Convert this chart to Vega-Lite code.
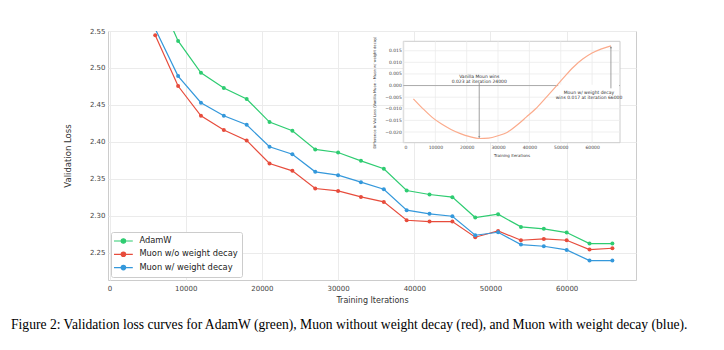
{
  "$schema": "https://vega.github.io/schema/vega-lite/v6.json",
  "width": 528,
  "height": 249,
  "autosize": {"type": "none"},
  "padding": {"left": 108, "top": 31, "right": 88, "bottom": 70},
  "background": "white",
  "config": {
    "font": "DejaVu Sans",
    "view": {"stroke": "#cccccc", "strokeWidth": 1},
    "axis": {
      "labelFont": "DejaVu Sans",
      "titleFont": "DejaVu Sans",
      "labelColor": "#444444",
      "titleColor": "#333333",
      "titleFontWeight": "normal",
      "gridColor": "#ebebeb",
      "gridWidth": 1,
      "ticks": false,
      "domain": false,
      "labelOverlap": false
    }
  },
  "title": {
    "text": "Figure 2: Validation loss curves for AdamW (green), Muon without weight decay (red), and Muon with weight decay (blue).",
    "orient": "bottom",
    "anchor": "start",
    "frame": "group",
    "dx": -97,
    "offset": 14,
    "font": "Liberation Serif",
    "fontSize": 13.6,
    "fontWeight": "normal",
    "color": "#000000"
  },
  "datasets": {
    "loss": [
      {"it": 6000, "series": "AdamW", "loss": 2.606},
      {"it": 9000, "series": "AdamW", "loss": 2.5365},
      {"it": 12000, "series": "AdamW", "loss": 2.4935},
      {"it": 15000, "series": "AdamW", "loss": 2.4728},
      {"it": 18000, "series": "AdamW", "loss": 2.4579},
      {"it": 21000, "series": "AdamW", "loss": 2.4267},
      {"it": 24000, "series": "AdamW", "loss": 2.415},
      {"it": 27000, "series": "AdamW", "loss": 2.3897},
      {"it": 30000, "series": "AdamW", "loss": 2.3856},
      {"it": 33000, "series": "AdamW", "loss": 2.3743},
      {"it": 36000, "series": "AdamW", "loss": 2.3635},
      {"it": 39000, "series": "AdamW", "loss": 2.3341},
      {"it": 42000, "series": "AdamW", "loss": 2.3287},
      {"it": 45000, "series": "AdamW", "loss": 2.3251},
      {"it": 48000, "series": "AdamW", "loss": 2.2975},
      {"it": 51000, "series": "AdamW", "loss": 2.302},
      {"it": 54000, "series": "AdamW", "loss": 2.2849},
      {"it": 57000, "series": "AdamW", "loss": 2.2822},
      {"it": 60000, "series": "AdamW", "loss": 2.2772},
      {"it": 63000, "series": "AdamW", "loss": 2.2623},
      {"it": 66000, "series": "AdamW", "loss": 2.2623},
      {"it": 6000, "series": "Muon w/o weight decay", "loss": 2.5441},
      {"it": 9000, "series": "Muon w/o weight decay", "loss": 2.4755},
      {"it": 12000, "series": "Muon w/o weight decay", "loss": 2.4353},
      {"it": 15000, "series": "Muon w/o weight decay", "loss": 2.4159},
      {"it": 18000, "series": "Muon w/o weight decay", "loss": 2.4019},
      {"it": 21000, "series": "Muon w/o weight decay", "loss": 2.3707},
      {"it": 24000, "series": "Muon w/o weight decay", "loss": 2.3607},
      {"it": 27000, "series": "Muon w/o weight decay", "loss": 2.3368},
      {"it": 30000, "series": "Muon w/o weight decay", "loss": 2.3336},
      {"it": 33000, "series": "Muon w/o weight decay", "loss": 2.3255},
      {"it": 36000, "series": "Muon w/o weight decay", "loss": 2.3187},
      {"it": 39000, "series": "Muon w/o weight decay", "loss": 2.2939},
      {"it": 42000, "series": "Muon w/o weight decay", "loss": 2.2921},
      {"it": 45000, "series": "Muon w/o weight decay", "loss": 2.2921},
      {"it": 48000, "series": "Muon w/o weight decay", "loss": 2.2709},
      {"it": 51000, "series": "Muon w/o weight decay", "loss": 2.2794},
      {"it": 54000, "series": "Muon w/o weight decay", "loss": 2.2668},
      {"it": 57000, "series": "Muon w/o weight decay", "loss": 2.2686},
      {"it": 60000, "series": "Muon w/o weight decay", "loss": 2.2668},
      {"it": 63000, "series": "Muon w/o weight decay", "loss": 2.2542},
      {"it": 66000, "series": "Muon w/o weight decay", "loss": 2.256},
      {"it": 6000, "series": "Muon w/ weight decay", "loss": 2.5528},
      {"it": 9000, "series": "Muon w/ weight decay", "loss": 2.489},
      {"it": 12000, "series": "Muon w/ weight decay", "loss": 2.4529},
      {"it": 15000, "series": "Muon w/ weight decay", "loss": 2.4353},
      {"it": 18000, "series": "Muon w/ weight decay", "loss": 2.4231},
      {"it": 21000, "series": "Muon w/ weight decay", "loss": 2.3933},
      {"it": 24000, "series": "Muon w/ weight decay", "loss": 2.3833},
      {"it": 27000, "series": "Muon w/ weight decay", "loss": 2.3594},
      {"it": 30000, "series": "Muon w/ weight decay", "loss": 2.3549},
      {"it": 33000, "series": "Muon w/ weight decay", "loss": 2.3454},
      {"it": 36000, "series": "Muon w/ weight decay", "loss": 2.3359},
      {"it": 39000, "series": "Muon w/ weight decay", "loss": 2.3075},
      {"it": 42000, "series": "Muon w/ weight decay", "loss": 2.3025},
      {"it": 45000, "series": "Muon w/ weight decay", "loss": 2.2993},
      {"it": 48000, "series": "Muon w/ weight decay", "loss": 2.2736},
      {"it": 51000, "series": "Muon w/ weight decay", "loss": 2.2776},
      {"it": 54000, "series": "Muon w/ weight decay", "loss": 2.2609},
      {"it": 57000, "series": "Muon w/ weight decay", "loss": 2.2587},
      {"it": 60000, "series": "Muon w/ weight decay", "loss": 2.2537},
      {"it": 63000, "series": "Muon w/ weight decay", "loss": 2.2393},
      {"it": 66000, "series": "Muon w/ weight decay", "loss": 2.2393}
    ],
    "diff": [
      {"it": 3000, "diff": -0.0057},
      {"it": 6000, "diff": -0.0099},
      {"it": 9000, "diff": -0.0137},
      {"it": 12000, "diff": -0.0166},
      {"it": 15000, "diff": -0.0189},
      {"it": 18000, "diff": -0.0207},
      {"it": 21000, "diff": -0.022},
      {"it": 24000, "diff": -0.0228},
      {"it": 27000, "diff": -0.0226},
      {"it": 30000, "diff": -0.0216},
      {"it": 33000, "diff": -0.0201},
      {"it": 36000, "diff": -0.0171},
      {"it": 39000, "diff": -0.0136},
      {"it": 42000, "diff": -0.0100},
      {"it": 45000, "diff": -0.0056},
      {"it": 48000, "diff": -0.0011},
      {"it": 51000, "diff": 0.0035},
      {"it": 54000, "diff": 0.0079},
      {"it": 57000, "diff": 0.0114},
      {"it": 60000, "diff": 0.014},
      {"it": 63000, "diff": 0.0158},
      {"it": 66000, "diff": 0.0171}
    ]
  },
  "layer": [
    {
      "data": {"name": "loss"},
      "layer": [
        {
          "mark": {"type": "line", "strokeWidth": 1.2, "clip": true},
          "encoding": {
            "x": {
              "field": "it", "type": "quantitative",
              "scale": {"domain": [-200, 69100], "nice": false, "zero": false},
              "axis": {"orient": "bottom", "values": [0, 10000, 20000, 30000, 40000, 50000, 60000], "format": "d", "labelFontSize": 7, "labelPadding": 4, "title": "Training Iterations", "titleFontSize": 8, "titlePadding": 5, "grid": true}
            },
            "y": {
              "field": "loss", "type": "quantitative",
              "scale": {"domain": [2.213, 2.55], "nice": false, "zero": false},
              "axis": {"orient": "left", "values": [2.25, 2.3, 2.35, 2.4, 2.45, 2.5, 2.55], "format": ".2f", "labelFontSize": 7, "labelPadding": 3, "title": "Validation Loss", "titleFontSize": 8.5, "titlePadding": 17, "grid": true}
            },
            "color": {
              "field": "series", "type": "nominal",
              "scale": {"domain": ["AdamW", "Muon w/o weight decay", "Muon w/ weight decay"], "range": ["#2ecc71", "#e74c3c", "#3498db"]},
              "legend": {
                "orient": "bottom-left", "offset": 3, "title": null,
                "labelFontSize": 8.3, "labelColor": "#222222", "labelOffset": 11,
                "symbolType": "M-2.35,0L2.35,0M-0.55,0A0.55,0.55,0,1,1,0.55,0A0.55,0.55,0,1,1,-0.55,0Z",
                "symbolSize": 64, "symbolStrokeWidth": 1.2, "symbolOffset": 3.4,
                "fillColor": "white", "strokeColor": "#cccccc", "cornerRadius": 2,
                "padding": 4, "rowPadding": 3.3,
                "encode": {"symbols": {"update": {"fill": {"scale": "color", "field": "value"}, "stroke": {"scale": "color", "field": "value"}}}}
              }
            },
            "detail": {"field": "series"}
          }
        },
        {
          "mark": {"type": "point", "filled": true, "size": 16, "opacity": 1, "clip": true},
          "encoding": {
            "x": {"field": "it", "type": "quantitative"},
            "y": {"field": "loss", "type": "quantitative"},
            "color": {"field": "series", "type": "nominal"}
          }
        }
      ]
    },
    {
      "layer": [
        {
          "data": {"values": [{"x0": -220, "x1": 68900, "y0": -0.0246, "y1": 0.01905}]},
          "mark": {"type": "rect", "fill": "white", "stroke": "#cccccc", "strokeWidth": 1},
          "encoding": {
            "x": {
              "field": "x0", "type": "quantitative",
              "scale": {"domain": [-220, 68900], "range": [295.3, 512], "nice": false, "zero": false},
              "axis": {"orient": "bottom", "offset": -137.3, "values": [0, 10000, 20000, 30000, 40000, 50000, 60000], "tickCount": 7, "format": "d", "labelFontSize": 4.5, "labelPadding": 2, "labelOverlap": false, "labelBound": false, "grid": false, "title": "Training Iterations", "titleFontSize": 4, "titlePadding": 4}
            },
            "x2": {"field": "x1"},
            "y": {
              "field": "y0", "type": "quantitative",
              "scale": {"domain": [-0.0246, 0.01905], "range": [111.7, 10.3], "nice": false, "zero": false},
              "axis": {"orient": "left", "offset": -295.3, "values": [-0.02, -0.015, -0.01, -0.005, 0, 0.005, 0.01, 0.015], "tickCount": 9, "format": ".3f", "labelFontSize": 4.5, "labelPadding": 2, "labelOverlap": false, "labelBound": false, "labelFlush": false, "grid": false, "title": "Difference in Val Loss (Vanilla Muon - Muon w/ weight decay)", "titleFontSize": 3.7, "titlePadding": 8}
            },
            "y2": {"field": "y1"}
          }
        },
        {
          "data": {"values": [{"g": 0}, {"g": 10000}, {"g": 20000}, {"g": 30000}, {"g": 40000}, {"g": 50000}, {"g": 60000}]},
          "mark": {"type": "rule", "color": "#ebebeb", "strokeWidth": 0.8},
          "encoding": {
            "x": {"field": "g", "type": "quantitative"},
            "y": {"datum": -0.0246, "type": "quantitative"},
            "y2": {"datum": 0.01905}
          }
        },
        {
          "data": {"values": [{"g": -0.02}, {"g": -0.015}, {"g": -0.01}, {"g": -0.005}, {"g": 0.005}, {"g": 0.01}, {"g": 0.015}]},
          "mark": {"type": "rule", "color": "#ebebeb", "strokeWidth": 0.8},
          "encoding": {
            "y": {"field": "g", "type": "quantitative"},
            "x": {"datum": -220, "type": "quantitative"},
            "x2": {"datum": 68900}
          }
        },
        {
          "data": {"values": [{"z": 0}]},
          "mark": {"type": "rule", "color": "#aaaaaa", "strokeWidth": 1},
          "encoding": {
            "y": {"field": "z", "type": "quantitative"},
            "x": {"datum": -220, "type": "quantitative"},
            "x2": {"datum": 68900}
          }
        },
        {
          "data": {"name": "diff"},
          "mark": {"type": "line", "color": "#fbab8c", "strokeWidth": 1.2, "interpolate": "monotone"},
          "encoding": {
            "x": {"field": "it", "type": "quantitative"},
            "y": {"field": "diff", "type": "quantitative"}
          }
        },
        {
          "data": {"values": [{"x": 49200, "x2": 68600, "y": 0.0003, "y2": -0.0056}]},
          "mark": {"type": "rect", "fill": "white"},
          "encoding": {
            "x": {"field": "x", "type": "quantitative"},
            "x2": {"field": "x2"},
            "y": {"field": "y", "type": "quantitative"},
            "y2": {"field": "y2"}
          }
        },
        {
          "data": {"values": [{"x": 24000, "y": 0.0012, "y2": -0.0224}, {"x": 66000, "y": -0.0012, "y2": 0.0167}]},
          "mark": {"type": "rule", "color": "#888888", "strokeWidth": 0.8},
          "encoding": {
            "x": {"field": "x", "type": "quantitative"},
            "y": {"field": "y", "type": "quantitative"},
            "y2": {"field": "y2"}
          }
        },
        {
          "data": {"values": [{"x": 24000, "y": -0.0222, "s": "triangle-down"}, {"x": 66000, "y": 0.0165, "s": "triangle-up"}]},
          "mark": {"type": "point", "filled": true, "color": "#888888", "size": 5, "opacity": 1},
          "encoding": {
            "x": {"field": "x", "type": "quantitative"},
            "y": {"field": "y", "type": "quantitative"},
            "shape": {"field": "s", "type": "nominal", "scale": null}
          }
        },
        {
          "data": {"values": [
            {"x": 24000, "y": 0.0038, "label": ["Vanilla Moun wins", "0.023 at iteration 24000"]},
            {"x": 59000, "y": -0.0031, "label": ["Moun w/ weight decay", "wins 0.017 at iteration 66000"]}
          ]},
          "mark": {"type": "text", "fontSize": 4.5, "lineHeight": 5.4, "color": "#333333", "align": "center", "baseline": "middle"},
          "encoding": {
            "x": {"field": "x", "type": "quantitative"},
            "y": {"field": "y", "type": "quantitative"},
            "text": {"field": "label"}
          }
        }
      ]
    }
  ],
  "resolve": {"scale": {"x": "independent", "y": "independent"}, "axis": {"x": "independent", "y": "independent"}}
}
